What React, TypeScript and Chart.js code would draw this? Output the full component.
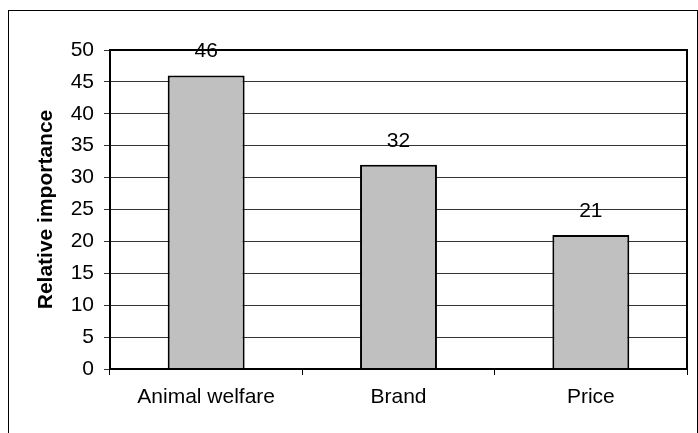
import React, { useEffect, useRef } from "react";
import { Chart, registerables } from "chart.js";

Chart.register(...registerables);

const categories = ["Animal welfare", "Brand", "Price"];
const importance = [46, 32, 21];
const yTicks = [0, 5, 10, 15, 20, 25, 30, 35, 40, 45, 50];

const FONT = '"Liberation Sans", Arial, sans-serif';

// White page, thin outer frame, thick box round the plot area
const framePlugin = {
  id: "frame",
  beforeDraw(chart: any) {
    const ctx = chart.ctx;
    ctx.save();
    ctx.fillStyle = "#ffffff";
    ctx.fillRect(0, 0, chart.width, chart.height);
    ctx.strokeStyle = "#000000";
    ctx.lineWidth = 1;
    ctx.strokeRect(8.5, 10.5, 689, 500);
    ctx.restore();
  },
  afterDatasetsDraw(chart: any) {
    const { ctx, chartArea } = chart;
    ctx.save();
    ctx.strokeStyle = "#000000";
    ctx.lineWidth = 2;
    ctx.strokeRect(chartArea.left, chartArea.top, chartArea.right - chartArea.left, chartArea.bottom - chartArea.top);
    ctx.restore();
  },
};

// Value written above each bar
const valueLabelPlugin = {
  id: "valueLabels",
  afterDatasetsDraw(chart: any) {
    const ctx = chart.ctx;
    const meta = chart.getDatasetMeta(0);
    ctx.save();
    ctx.font = `21px ${FONT}`;
    ctx.fillStyle = "#000000";
    ctx.textAlign = "center";
    ctx.textBaseline = "middle";
    meta.data.forEach((bar: any, i: number) => {
      ctx.fillText(String(importance[i]), bar.x, bar.y - 24);
    });
    ctx.restore();
  },
};

export default function App() {
  const ref = useRef<HTMLCanvasElement>(null);

  useEffect(() => {
    if (!ref.current) return;
    const chart = new Chart(ref.current, {
      type: "bar",
      data: {
        labels: categories,
        datasets: [
          {
            data: importance,
            backgroundColor: "#c0c0c0",
            borderColor: "#000000",
            borderWidth: 2,
            categoryPercentage: 1,
            barPercentage: 0.4,
          },
        ],
      },
      options: {
        responsive: false,
        animation: false,
        devicePixelRatio: 1,
        layout: { padding: { left: 0, top: 50, right: 11, bottom: 0 } },
        plugins: {
          legend: { display: false },
          tooltip: { enabled: false },
        },
        scales: {
          x: {
            type: "category",
            offset: true,
            afterFit: (scale: any) => {
              scale.height = 64;
            },
            grid: {
              offset: true,
              drawOnChartArea: false,
              drawTicks: true,
              tickLength: 6,
              color: "#000000",
              lineWidth: 1,
            },
            border: { display: true, color: "#000000", width: 2 },
            ticks: {
              font: { family: FONT, size: 21 },
              color: "#000000",
              padding: 10,
              maxRotation: 0,
            },
          },
          y: {
            min: 0,
            max: 50,
            afterFit: (scale: any) => {
              scale.width = 110;
            },
            afterBuildTicks: (scale: any) => {
              scale.ticks = yTicks.map((v) => ({ value: v }));
            },
            grid: {
              color: "#333333",
              lineWidth: 1,
              tickLength: 6,
              drawTicks: true,
            },
            border: { display: true, color: "#000000", width: 2 },
            ticks: {
              font: { family: FONT, size: 21 },
              color: "#000000",
              padding: 10,
            },
            title: {
              display: true,
              text: "Relative importance",
              font: { family: FONT, size: 21, weight: "bold" },
              color: "#000000",
              padding: { top: 34, bottom: 0 },
            },
          },
        },
      },
      plugins: [framePlugin, valueLabelPlugin],
    });
    return () => chart.destroy();
  }, []);

  return (
    <div style={{ position: "fixed", left: 0, top: 0, width: 698, height: 433, overflow: "hidden", background: "#fff" }}>
      <canvas ref={ref} width={698} height={433} style={{ display: "block", width: 698, height: 433 }} />
    </div>
  );
}
